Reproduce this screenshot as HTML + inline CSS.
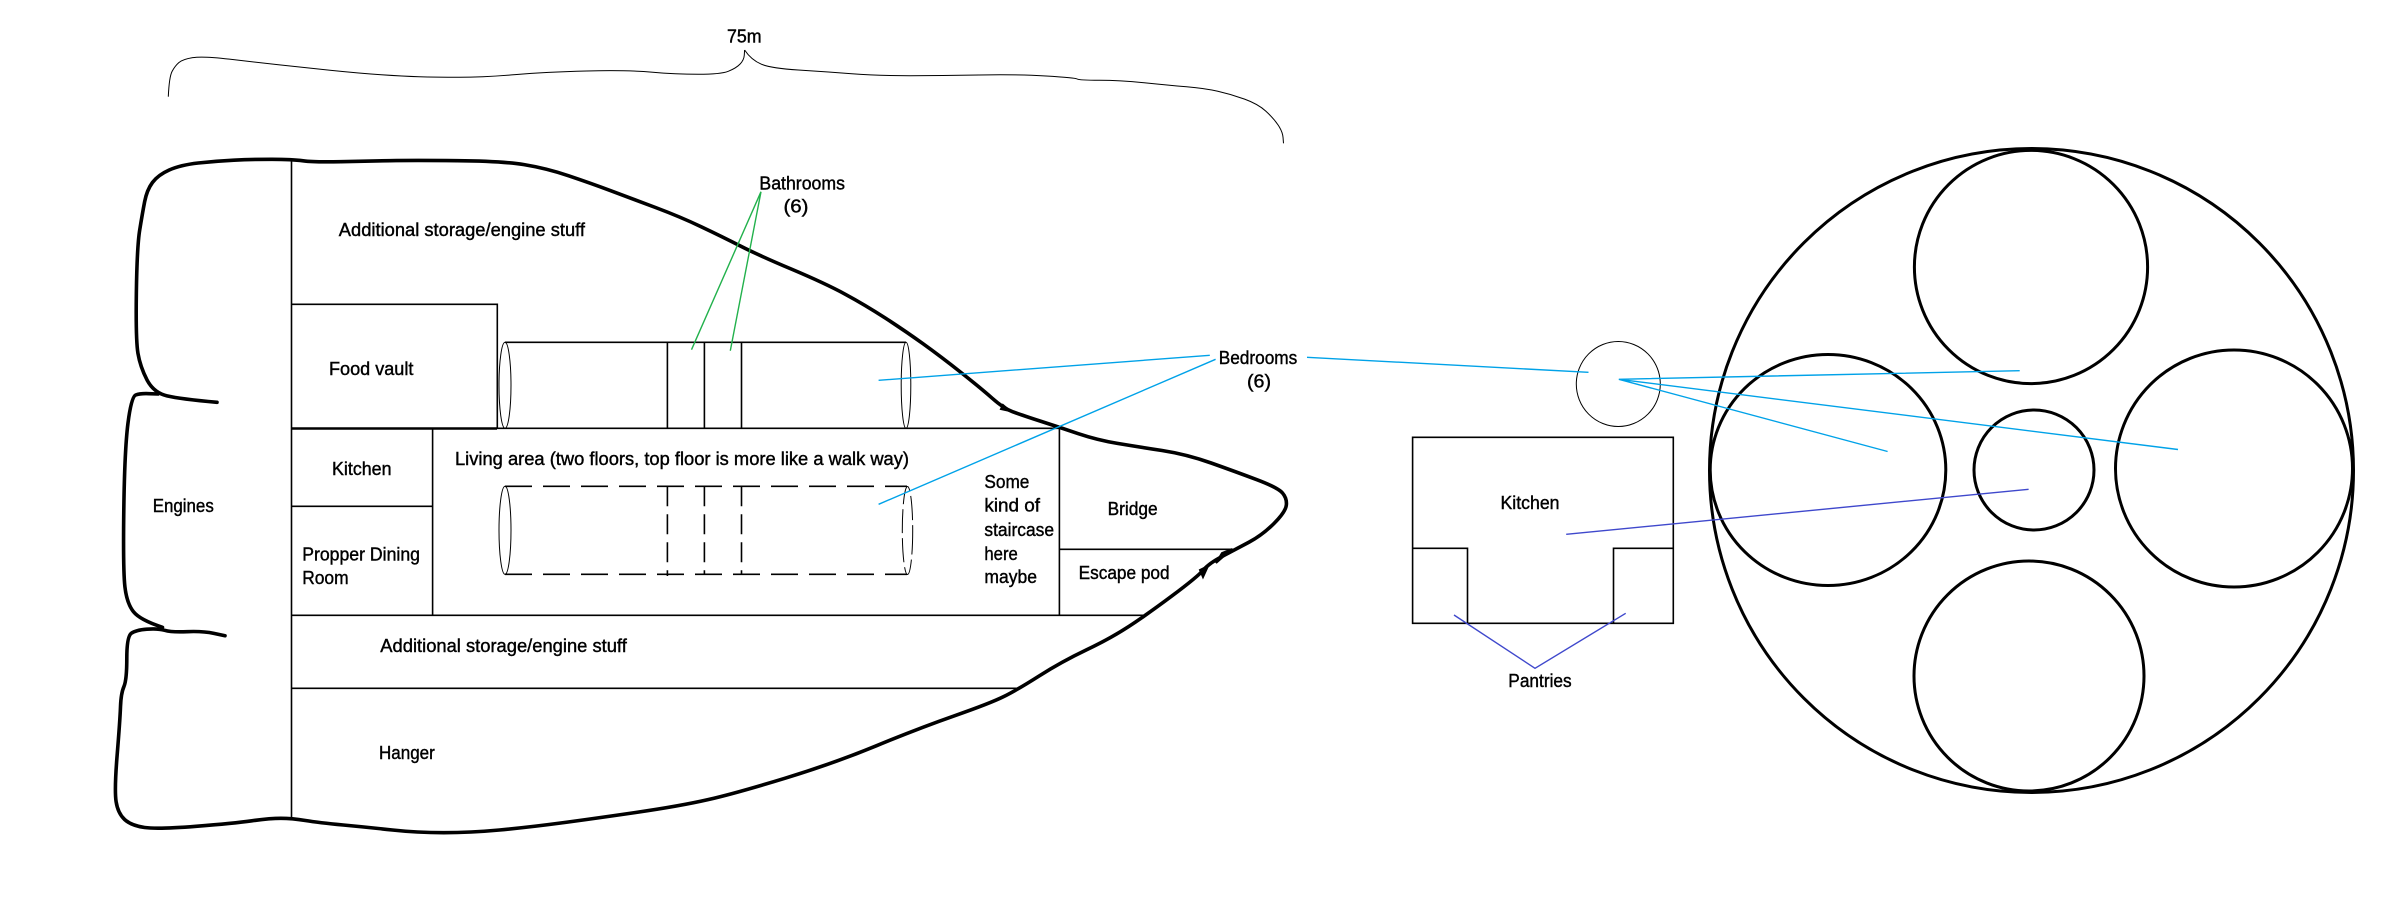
<!DOCTYPE html>
<html><head><meta charset="utf-8"><style>
html,body{margin:0;padding:0;background:#fff}
svg{display:block}
text{font-family:"Liberation Sans",sans-serif;font-size:18px;fill:#000;stroke:#000;stroke-width:.4}
.hull{fill:none;stroke:#000;stroke-width:3.6;stroke-linejoin:round;stroke-linecap:round}
.l{fill:none;stroke:#000;stroke-width:1.6}
.t{fill:none;stroke:#000;stroke-width:1}
.d{stroke-dasharray:27 11}
.v{stroke-dasharray:20 8}
.c{fill:none;stroke:#000;stroke-width:3}
.b{stroke:#00a2e8;stroke-width:1.4;fill:none}
.p{stroke:#3f48cc;stroke-width:1.4;fill:none}
.g{stroke:#22b14c;stroke-width:1.4;fill:none}
</style></head><body>
<svg width="2407" height="909" viewBox="0 0 2407 909" xmlns="http://www.w3.org/2000/svg">
<rect width="2407" height="909" fill="#fff"/>
<!-- brace -->
<polyline class="t sm" points="168.3,96.7 169.2,76.7 175,66 182.6,59.3 202.7,56 256,62.3 301,67.3 359,73.3 403.5,76.3 434.8,77.3 484,77.3 546.4,72 626.7,70 675.9,74.3 720.5,74.3 736,68.3 744,60 744.6,50"/>
<polyline class="t sm" points="744.6,50 751.3,60 771.4,68.3 825,71.7 878.6,75.7 941,75.7 1017,74.3 1075,77.7 1079.4,80.3 1119.6,80.3 1168.7,85.3 1204.4,88.3 1231.2,94.3 1258,104 1273.6,118.3 1282.6,131.7 1283.5,143.3"/>
<!-- hull -->
<polyline class="hull sm" points="217,402.3 180.4,399 153.6,392.7 140.2,366.7 135.7,340 137,246.7 142.4,213.3 146.9,190 158,175 180.4,165 216,161 251.8,159.3 292,159.3 314.3,162.3 367.8,161 412.5,160.3 501.8,161 546.4,168.3 591,183.3 631,198.3 680,216.7 722.3,236.7 758,255 825,283.3 865.2,305 905.3,331 941,356.7 981,388.3 1003.6,408.3 1021.4,415 1059.4,427.3 1097.3,440 1137.5,446.7 1186.6,454.3 1235.7,471.7 1278,487.7 1287,498.3 1285.7,511.7 1262.5,535 1235.7,549.3 1209,563.3 1197.7,576.7 1146.4,615 1110.7,638.3 1061.6,661.7 1017,690 990.2,703.3 918.7,728.3 833.9,763.3 735.7,793.3 680.3,806 591,819 528.5,827.3 470.5,832.7 417,832.7 367.8,827.3 318.7,822.7 292,818.3 269.6,818.3 234,823.3 158,829.3 131.3,825.7 117.9,813.3 114.3,790 120,720 121,693.3 126.8,680 126.8,636.7 135.7,630 158,628.3 171.4,632.3 202.7,631 225,635.7"/>
<polyline class="hull sm" points="162.5,627.3 140,620 126.8,603.3 123,570 124.6,450 131.3,396.7 140,393.3 158,394"/>
<path d="M1003 405L1010 411L1001 409ZM1200 570L1208 566L1203 577ZM1222 553L1232 549L1216 563Z" fill="#000" stroke="#000" stroke-width="2"/>
<!-- structure -->
<g class="l">
<path d="M291.5 160V820"/>
<path d="M291.5 304.3H497.3V428.3"/>
<path d="M291.5 428.5H497" stroke-width="2.6"/>
<path d="M497 428.3H1059"/>
<path d="M505 342.3H906"/>
<path d="M667.4 342.3V428.3M704.4 342.3V428.3M741.5 342.3V428.3"/>
<path d="M432.6 428.3V616M291.5 506.3H432.6"/>
<path d="M291.5 615.3H1144M291.5 688.3H1018"/>
<path d="M1059.4 427V615M1059.4 549.3H1235.7"/>
</g>
<ellipse class="t" cx="505" cy="385.3" rx="6" ry="43"/>
<ellipse class="t" cx="906" cy="385.3" rx="4.8" ry="43"/>
<!-- dashed cylinder -->
<path class="l d" d="M505 486.3H907M505 574.3H907"/>
<path class="l v" d="M667.4 486.3V576M704.4 486.3V574.3M741.5 486.3V574.3"/>
<ellipse class="t" cx="505" cy="530.3" rx="6" ry="44"/>
<ellipse class="t v" cx="907.5" cy="530.5" rx="5.2" ry="44" style="stroke-dasharray:24 5"/>
<!-- right drawings -->
<ellipse class="t" cx="1618.3" cy="384" rx="42" ry="42.5"/>
<path class="l" d="M1412.6 437.3H1673.3V623.3H1412.6ZM1412.6 548.3H1467.5V623.3M1673.3 548.3H1613.5V623.3"/>
<circle class="c" cx="2031.5" cy="470.5" r="322"/>
<circle class="c" cx="2031" cy="267" r="116.6"/>
<ellipse class="c" cx="1828" cy="470" rx="117.8" ry="115.5"/>
<circle class="c" cx="2234" cy="468.5" r="118.5"/>
<circle class="c" cx="2029" cy="676" r="115"/>
<circle class="c" cx="2034" cy="470" r="60"/>
<!-- leaders -->
<path class="g" d="M761 191.7L691.5 349.7M761 191.7L730.3 350.7"/>
<path class="b" d="M878.6 380.3L1209.8 355.3M1215.6 359.3L878.6 504.3M1307 357.3L1588.5 372.3"/>
<path class="b" d="M1618.8 379.3L2019.7 370.7M1618.8 379.3L2178 449.5M1618.8 379.3L1887.6 451.5"/>
<path class="p" d="M1566.2 534.3L2028.6 489.3M1454 615L1535 668.3L1625.7 613.3"/>
<!-- labels -->
<g>
<text x="727" y="42.3" textLength="34.6" lengthAdjust="spacingAndGlyphs">75m</text>
<text x="759.4" y="189.3" textLength="85.6" lengthAdjust="spacingAndGlyphs">Bathrooms</text>
<text x="783.5" y="212.7" textLength="25" lengthAdjust="spacingAndGlyphs">(6)</text>
<text x="338.8" y="236" textLength="246.2" lengthAdjust="spacingAndGlyphs">Additional storage/engine stuff</text>
<text x="329" y="375" textLength="84.4" lengthAdjust="spacingAndGlyphs">Food vault</text>
<text x="1218.7" y="364" textLength="78.6" lengthAdjust="spacingAndGlyphs">Bedrooms</text>
<text x="1247" y="387.7" textLength="24" lengthAdjust="spacingAndGlyphs">(6)</text>
<text x="332" y="475" textLength="59.5" lengthAdjust="spacingAndGlyphs">Kitchen</text>
<text x="152.7" y="512" textLength="61.1" lengthAdjust="spacingAndGlyphs">Engines</text>
<text x="455" y="465" textLength="454" lengthAdjust="spacingAndGlyphs">Living area (two floors, top floor is more like a walk way)</text>
<text x="302.2" y="560.7" textLength="117.8" lengthAdjust="spacingAndGlyphs">Propper Dining</text>
<text x="302.2" y="584" textLength="46.4" lengthAdjust="spacingAndGlyphs">Room</text>
<text x="380.3" y="652" textLength="246.5" lengthAdjust="spacingAndGlyphs">Additional storage/engine stuff</text>
<text x="379" y="759" textLength="55.8" lengthAdjust="spacingAndGlyphs">Hanger</text>
<text x="984.4" y="488" textLength="45" lengthAdjust="spacingAndGlyphs">Some</text>
<text x="984.4" y="511.7" textLength="55.6" lengthAdjust="spacingAndGlyphs">kind of</text>
<text x="984.4" y="536" textLength="69.6" lengthAdjust="spacingAndGlyphs">staircase</text>
<text x="984.4" y="560" textLength="33.4" lengthAdjust="spacingAndGlyphs">here</text>
<text x="984.4" y="583" textLength="52.6" lengthAdjust="spacingAndGlyphs">maybe</text>
<text x="1107.6" y="515" textLength="50" lengthAdjust="spacingAndGlyphs">Bridge</text>
<text x="1078.6" y="579" textLength="91" lengthAdjust="spacingAndGlyphs">Escape pod</text>
<text x="1500.5" y="509" textLength="59" lengthAdjust="spacingAndGlyphs">Kitchen</text>
<text x="1508.3" y="687" textLength="63.4" lengthAdjust="spacingAndGlyphs">Pantries</text>
</g>
</svg>
<script>
document.querySelectorAll('polyline.sm').forEach(function(e){
  var p=e.getAttribute('points').trim().split(/\s+/).map(function(s){return s.split(',').map(Number)});
  var d='M'+p[0][0]+' '+p[0][1];
  for(var i=1;i<p.length-1;i++){
    var mx=(p[i][0]+p[i+1][0])/2,my=(p[i][1]+p[i+1][1])/2;
    d+='Q'+p[i][0]+' '+p[i][1]+' '+mx+' '+my;
  }
  var n=p[p.length-1];d+='L'+n[0]+' '+n[1];
  var q=document.createElementNS('http://www.w3.org/2000/svg','path');
  q.setAttribute('d',d);q.setAttribute('class',e.getAttribute('class'));
  e.parentNode.replaceChild(q,e);
});
</script>
</body></html>
